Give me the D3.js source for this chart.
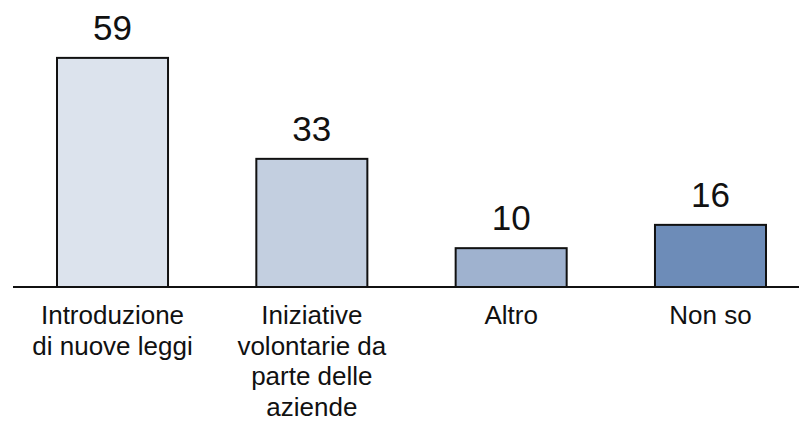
<!DOCTYPE html>
<html><head><meta charset="utf-8">
<script src="https://cdn.jsdelivr.net/npm/d3@7"></script>
<style>body{margin:0;background:#fff}svg{display:block}</style>
</head><body>
<svg id="c" width="799" height="421"></svg>
<script>
const categories = ["Introduzione di nuove leggi", "Iniziative volontarie da parte delle aziende", "Altro", "Non so"];
const labelLines = [["Introduzione", "di nuove leggi"], ["Iniziative", "volontarie da", "parte delle", "aziende"], ["Altro"], ["Non so"]];
const values = [59, 33, 10, 16];
const colors = ["#dce3ed", "#c3cfe0", "#9fb2cf", "#6d8cb8"];

const svg = d3.select("#c");
const font = "Liberation Sans, Arial, sans-serif";
const x = d3.scaleBand().domain(categories).range([57, 766]).paddingInner(0.443).paddingOuter(0);
const y = d3.scaleLinear().domain([0, 60]).range([287, 54]);

svg.selectAll("rect.bar").data(values).join("rect")
  .attr("class", "bar")
  .attr("x", (d, i) => x(categories[i]))
  .attr("y", d => y(d))
  .attr("width", x.bandwidth())
  .attr("height", d => y(0) - y(d))
  .attr("fill", (d, i) => colors[i])
  .attr("stroke", "#111")
  .attr("stroke-width", 2);

svg.append("line").attr("x1", 13).attr("x2", 799).attr("y1", y(0)).attr("y2", y(0))
  .attr("stroke", "#111").attr("stroke-width", 2);

svg.selectAll("text.val").data(values).join("text")
  .attr("class", "val")
  .attr("x", (d, i) => x(categories[i]) + x.bandwidth() / 2)
  .attr("y", d => y(d) - 18)
  .attr("text-anchor", "middle")
  .attr("font-family", font).attr("font-size", 35).attr("fill", "#111")
  .text(d => d);

categories.forEach((c, i) => {
  const t = svg.append("text")
    .attr("x", x(c) + x.bandwidth() / 2)
    .attr("y", 324)
    .attr("text-anchor", "middle")
    .attr("font-family", font).attr("font-size", 26).attr("fill", "#111");
  labelLines[i].forEach((ln, j) => {
    t.append("tspan").attr("x", x(c) + x.bandwidth() / 2).attr("dy", j === 0 ? 0 : 30.5).text(ln);
  });
});
</script>
</body></html>
